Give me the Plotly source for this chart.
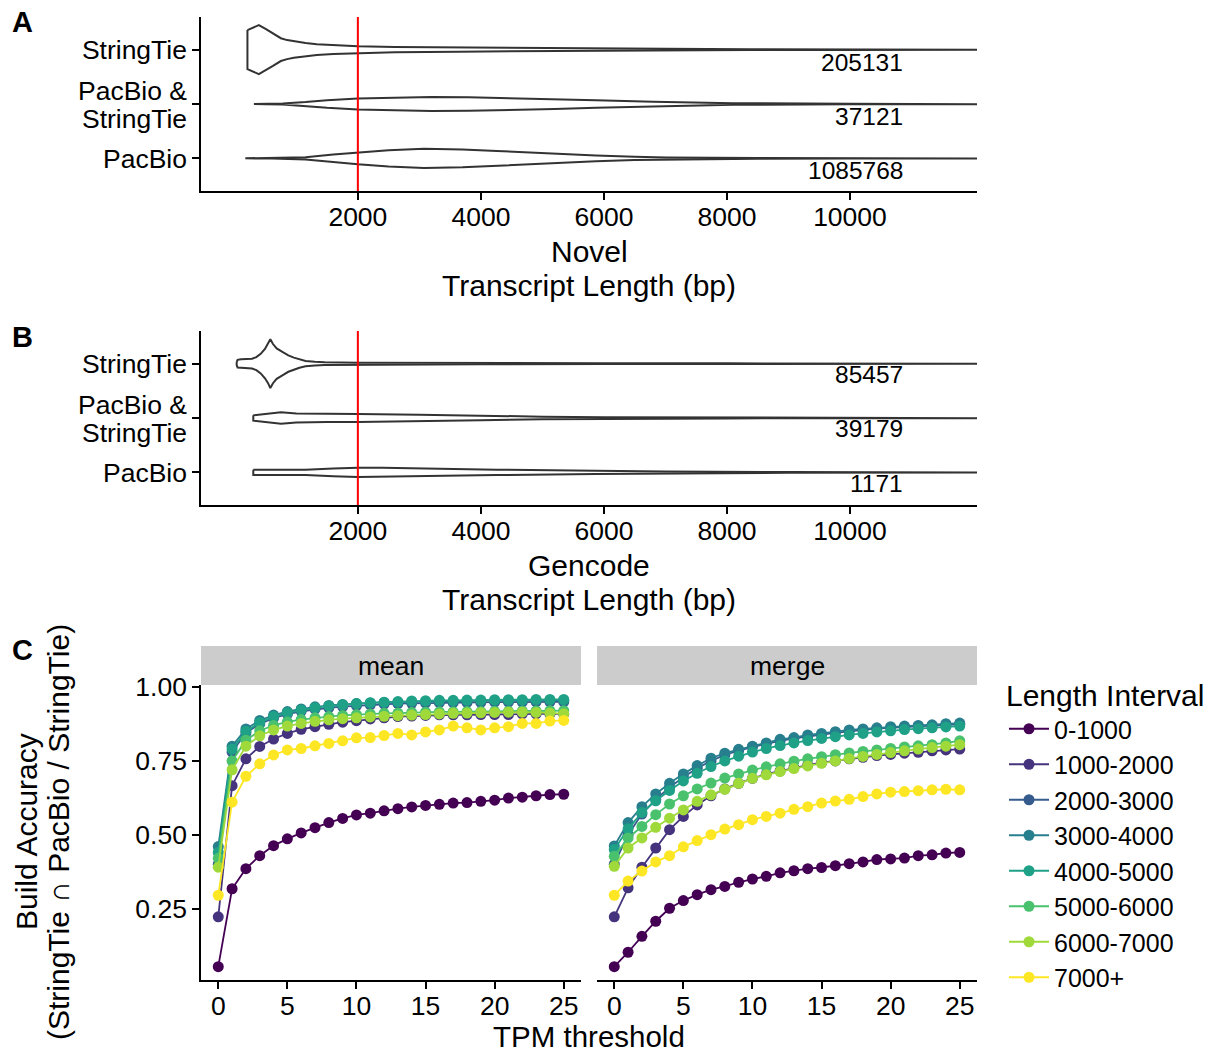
import plotly.graph_objects as go

W, H = 1213, 1053
FONT = "Liberation Sans, Arial, sans-serif"

# ---------------- Panel A / B violin outlines (length bp, half-width in category units)
cats = ["PacBio", "PacBio &<br>StringTie", "StringTie"]
len_ticks = [2000, 4000, 6000, 8000, 10000]
len_tick_text = ["2000", "4000", "6000", "8000", "10000"]

a_st_x = [205, 390, 500, 620, 748, 850, 959, 1150, 1333, 1600, 2000, 2600, 3642, 4800, 5870, 7000, 8374, 10000, 12065]
a_st_w = [0.36, 0.45, 0.38, 0.30, 0.21, 0.175, 0.15, 0.12, 0.10, 0.08, 0.062, 0.048, 0.037, 0.028, 0.022, 0.014, 0.008, 0.005, 0.004]
a_ps_x = [310, 500, 780, 1150, 1500, 2000, 2500, 3200, 3800, 4500, 5200, 5870, 6800, 8100, 10000, 12065]
a_ps_w = [0.002, 0.004, 0.008, 0.035, 0.07, 0.10, 0.118, 0.13, 0.125, 0.11, 0.09, 0.068, 0.04, 0.015, 0.006, 0.003]
a_pb_x = [170, 600, 1150, 1600, 2000, 2500, 3075, 3700, 4260, 5000, 5870, 6500, 7020, 8500, 10000, 12065]
a_pb_w = [0.002, 0.004, 0.02, 0.07, 0.11, 0.15, 0.178, 0.165, 0.135, 0.095, 0.055, 0.03, 0.015, 0.006, 0.004, 0.003]

b_st_x = [30, 45, 100, 200, 280, 350, 420, 490, 540, 577, 620, 680, 780, 870, 960, 1050, 1150, 1300, 1460, 2000, 3000, 4000, 6000, 8000, 12065]
b_st_w = [0.03, 0.07, 0.08, 0.08, 0.09, 0.12, 0.18, 0.27, 0.36, 0.45, 0.36, 0.28, 0.21, 0.15, 0.11, 0.075, 0.05, 0.035, 0.025, 0.018, 0.013, 0.01, 0.007, 0.005, 0.003]
b_ps_x = [300, 500, 750, 1000, 1500, 2000, 3000, 4000, 5000, 6000, 8000, 12065]
b_ps_w = [0.05, 0.075, 0.105, 0.085, 0.075, 0.073, 0.06, 0.04, 0.025, 0.015, 0.007, 0.003]
b_pb_x = [300, 700, 1150, 1600, 2000, 2400, 3000, 4260, 5870, 7000, 9000, 12065]
b_pb_w = [0.05, 0.047, 0.05, 0.07, 0.085, 0.085, 0.07, 0.05, 0.028, 0.015, 0.007, 0.003]

a_counts = ["1085768", "37121", "205131"]
b_counts = ["1171", "39179", "85457"]
count_x = 10900
cutoff = 2000

# ---------------- Panel C
tpm = list(range(26))
intervals = ["0-1000", "1000-2000", "2000-3000", "3000-4000", "4000-5000", "5000-6000", "6000-7000", "7000+"]
colors = ["#440154", "#46337E", "#365C8D", "#277F8E", "#1FA187", "#4AC16D", "#9FDA3A", "#FDE725"]

mean_0_1000 = [0.053, 0.317, 0.385, 0.429, 0.463, 0.486, 0.506, 0.524, 0.541, 0.555, 0.567, 0.573, 0.581, 0.588, 0.594, 0.599, 0.603, 0.607, 0.609, 0.613, 0.617, 0.624, 0.627, 0.632, 0.636, 0.637]
mean_1000_2000 = [0.222, 0.666, 0.757, 0.799, 0.824, 0.843, 0.857, 0.866, 0.874, 0.881, 0.886, 0.892, 0.896, 0.900, 0.902, 0.904, 0.906, 0.906, 0.906, 0.907, 0.907, 0.907, 0.909, 0.909, 0.909, 0.909]
mean_2000_3000 = [0.40, 0.78, 0.845, 0.875, 0.895, 0.908, 0.918, 0.925, 0.930, 0.934, 0.937, 0.940, 0.942, 0.944, 0.945, 0.946, 0.947, 0.947, 0.948, 0.948, 0.949, 0.949, 0.949, 0.950, 0.950, 0.950]
mean_3000_4000 = [0.46, 0.80, 0.858, 0.887, 0.905, 0.917, 0.926, 0.933, 0.938, 0.941, 0.944, 0.946, 0.948, 0.949, 0.950, 0.951, 0.952, 0.952, 0.953, 0.953, 0.954, 0.954, 0.954, 0.955, 0.955, 0.955]
mean_4000_5000 = [0.44, 0.79, 0.85, 0.88, 0.90, 0.913, 0.922, 0.930, 0.936, 0.940, 0.944, 0.947, 0.949, 0.951, 0.953, 0.954, 0.955, 0.955, 0.956, 0.956, 0.957, 0.957, 0.957, 0.958, 0.958, 0.958]
mean_5000_6000 = [0.42, 0.75, 0.82, 0.852, 0.87, 0.882, 0.890, 0.896, 0.900, 0.904, 0.907, 0.909, 0.911, 0.912, 0.914, 0.915, 0.916, 0.916, 0.917, 0.917, 0.918, 0.918, 0.919, 0.919, 0.920, 0.920]
mean_6000_7000 = [0.39, 0.72, 0.80, 0.835, 0.855, 0.868, 0.877, 0.884, 0.889, 0.893, 0.896, 0.899, 0.901, 0.903, 0.905, 0.907, 0.909, 0.911, 0.912, 0.913, 0.914, 0.915, 0.915, 0.914, 0.912, 0.910]
mean_7000p = [0.295, 0.610, 0.698, 0.740, 0.770, 0.787, 0.792, 0.801, 0.809, 0.818, 0.828, 0.829, 0.836, 0.843, 0.838, 0.848, 0.855, 0.868, 0.862, 0.855, 0.862, 0.866, 0.877, 0.877, 0.885, 0.887]

merge_0_1000 = [0.053, 0.102, 0.156, 0.207, 0.251, 0.277, 0.297, 0.314, 0.325, 0.339, 0.350, 0.359, 0.371, 0.378, 0.385, 0.389, 0.395, 0.402, 0.408, 0.416, 0.418, 0.421, 0.429, 0.432, 0.438, 0.440]
merge_1000_2000 = [0.222, 0.320, 0.390, 0.455, 0.517, 0.562, 0.601, 0.632, 0.655, 0.674, 0.691, 0.705, 0.716, 0.727, 0.736, 0.744, 0.750, 0.757, 0.762, 0.768, 0.772, 0.776, 0.779, 0.784, 0.787, 0.790]
merge_2000_3000 = [0.40, 0.50, 0.57, 0.62, 0.66, 0.695, 0.725, 0.75, 0.77, 0.785, 0.797, 0.808, 0.818, 0.826, 0.833, 0.839, 0.845, 0.85, 0.855, 0.859, 0.862, 0.865, 0.868, 0.87, 0.872, 0.874]
merge_3000_4000 = [0.462, 0.541, 0.595, 0.638, 0.674, 0.706, 0.734, 0.759, 0.776, 0.789, 0.800, 0.811, 0.823, 0.829, 0.838, 0.843, 0.849, 0.855, 0.858, 0.862, 0.866, 0.868, 0.870, 0.872, 0.876, 0.878]
merge_4000_5000 = [0.45, 0.52, 0.575, 0.615, 0.650, 0.682, 0.708, 0.731, 0.750, 0.766, 0.780, 0.792, 0.802, 0.811, 0.819, 0.826, 0.832, 0.838, 0.843, 0.848, 0.852, 0.856, 0.859, 0.862, 0.865, 0.868]
merge_5000_6000 = [0.427, 0.489, 0.528, 0.568, 0.604, 0.632, 0.655, 0.675, 0.692, 0.706, 0.719, 0.730, 0.740, 0.749, 0.757, 0.764, 0.771, 0.777, 0.782, 0.787, 0.792, 0.797, 0.801, 0.805, 0.811, 0.818]
merge_6000_7000 = [0.393, 0.455, 0.489, 0.525, 0.556, 0.584, 0.613, 0.635, 0.654, 0.674, 0.691, 0.703, 0.714, 0.724, 0.733, 0.742, 0.750, 0.758, 0.765, 0.772, 0.778, 0.784, 0.790, 0.795, 0.800, 0.805]
merge_7000p = [0.295, 0.343, 0.377, 0.408, 0.429, 0.459, 0.480, 0.500, 0.519, 0.534, 0.551, 0.562, 0.573, 0.586, 0.595, 0.607, 0.614, 0.620, 0.629, 0.638, 0.644, 0.646, 0.649, 0.652, 0.654, 0.652]

mean_series = [mean_0_1000, mean_1000_2000, mean_2000_3000, mean_3000_4000, mean_4000_5000, mean_5000_6000, mean_6000_7000, mean_7000p]
merge_series = [merge_0_1000, merge_1000_2000, merge_2000_3000, merge_3000_4000, merge_4000_5000, merge_5000_6000, merge_6000_7000, merge_7000p]

TICK = 26.5
TITLE = 30


def px_x(p):
    return p / W


def px_y(p):
    return 1 - p / H


fig = go.Figure()


def violin(xs, ws, cat, xa, ya):
    upper = [cat + w for w in ws]
    lower = [cat - w for w in ws]
    fig.add_trace(go.Scatter(
        x=list(xs) + list(xs)[::-1] + [xs[0]],
        y=upper + lower[::-1] + [upper[0]],
        mode="lines", fill="toself", fillcolor="white",
        line=dict(color="#333333", width=2),
        xaxis=xa, yaxis=ya, showlegend=False, hoverinfo="skip"))


violin(a_pb_x, a_pb_w, 1, "x", "y")
violin(a_ps_x, a_ps_w, 2, "x", "y")
violin(a_st_x, a_st_w, 3, "x", "y")
violin(b_pb_x, b_pb_w, 1, "x2", "y2")
violin(b_ps_x, b_ps_w, 2, "x2", "y2")
violin(b_st_x, b_st_w, 3, "x2", "y2")

# Panel C traces
for i, name in enumerate(intervals):
    fig.add_trace(go.Scatter(
        x=tpm, y=mean_series[i], mode="lines+markers", name=name,
        legendgroup=name, showlegend=True,
        line=dict(color=colors[i], width=1.8),
        marker=dict(color=colors[i], size=11),
        xaxis="x3", yaxis="y3"))
for i, name in enumerate(intervals):
    fig.add_trace(go.Scatter(
        x=tpm, y=merge_series[i], mode="lines+markers", name=name,
        legendgroup=name, showlegend=False,
        line=dict(color=colors[i], width=1.8),
        marker=dict(color=colors[i], size=11),
        xaxis="x4", yaxis="y4"))

axis_common = dict(showline=True, linecolor="black", linewidth=1.5, ticks="outside",
                   ticklen=7, tickwidth=1.5, tickcolor="black", showgrid=False,
                   zeroline=False, automargin=False,
                   tickfont=dict(size=TICK, color="black", family=FONT))
xaxis_extra = dict(ticklabelstandoff=-6)

annotations = []
shapes = []

# two-line category label (tighter line spacing than Plotly's tick labels allow)
cat_axis_text = [cats[0], "", cats[2]]
for yref in ["y", "y2"]:
    top, bottom = cats[1].split("<br>")
    for txt, dy in [(top, 0.24), (bottom, -0.27)]:
        annotations.append(dict(x=px_x(189), y=2 + dy, xref="paper", yref=yref, text=txt,
                                showarrow=False, xanchor="right", yanchor="middle",
                                font=dict(size=TICK, color="black")))

# count labels
for i, c in enumerate(a_counts):
    annotations.append(dict(x=count_x, y=i + 1 - 0.23, xref="x", yref="y", text=c,
                            showarrow=False, xanchor="right", yanchor="middle",
                            font=dict(size=24.5, color="black")))
for i, c in enumerate(b_counts):
    annotations.append(dict(x=count_x, y=i + 1 - 0.2, xref="x2", yref="y2", text=c,
                            showarrow=False, xanchor="right", yanchor="middle",
                            font=dict(size=24.5, color="black")))

# red cutoff lines
for xr, yr in [("x", "y domain"), ("x2", "y2 domain")]:
    shapes.append(dict(type="line", xref=xr, yref=yr, x0=cutoff, x1=cutoff, y0=0, y1=1,
                       line=dict(color="#FF0000", width=2)))

# strips
for x0, x1, lab in [(201, 581, "mean"), (597, 977, "merge")]:
    shapes.append(dict(type="rect", xref="paper", yref="paper", x0=px_x(x0), x1=px_x(x1),
                       y0=px_y(685), y1=px_y(646), fillcolor="#CCCCCC", line=dict(width=0),
                       layer="below"))
    annotations.append(dict(x=px_x((x0 + x1) / 2), y=px_y(665.5), xref="paper", yref="paper",
                            text=lab, showarrow=False, xanchor="center", yanchor="middle",
                            font=dict(size=TICK, color="black")))


def title(text, x, y, size=TITLE, angle=0):
    annotations.append(dict(x=px_x(x), y=px_y(y), xref="paper", yref="paper", text=text,
                            showarrow=False, xanchor="center", yanchor="middle",
                            textangle=angle, font=dict(size=size, color="black")))


title("Novel", 589, 251)
title("Transcript Length (bp)", 589, 285)
title("Gencode", 589, 565)
title("Transcript Length (bp)", 589, 599)
title("TPM threshold", 589, 1036, size=29.5)
title("Build Accuracy", 26, 832, angle=-90)
title("(StringTie ∩ PacBio / StringTie)", 58, 832, angle=-90)

for lab, y in [("A", 22), ("B", 337), ("C", 650)]:
    annotations.append(dict(x=px_x(22), y=px_y(y), xref="paper", yref="paper",
                            text="<b>" + lab + "</b>", showarrow=False, xanchor="center",
                            yanchor="middle", font=dict(size=29, color="black")))

fig.update_layout(
    width=W, height=H, margin=dict(l=0, r=0, t=0, b=0, pad=0, autoexpand=False),
    paper_bgcolor="white", plot_bgcolor="white",
    font=dict(family=FONT, color="black", size=TICK),
    xaxis=dict(domain=[px_x(201), px_x(977)], anchor="y", range=[-550, 12065],
               tickvals=len_ticks, ticktext=len_tick_text, **axis_common, **xaxis_extra),
    yaxis=dict(domain=[px_y(191), px_y(17)], anchor="x", range=[0.4, 3.6],
               tickvals=[1, 2, 3], ticktext=cat_axis_text, **axis_common),
    xaxis2=dict(domain=[px_x(201), px_x(977)], anchor="y2", range=[-550, 12065],
                tickvals=len_ticks, ticktext=len_tick_text, **axis_common, **xaxis_extra),
    yaxis2=dict(domain=[px_y(505), px_y(331)], anchor="x2", range=[0.4, 3.6],
                tickvals=[1, 2, 3], ticktext=cat_axis_text, **axis_common),
    xaxis3=dict(domain=[px_x(201), px_x(581)], anchor="y3", range=[-1.25, 26.25],
                tickvals=[0, 5, 10, 15, 20, 25], **axis_common, **xaxis_extra),
    yaxis3=dict(domain=[px_y(980), px_y(685)], anchor="x3", range=[0.008, 1.007],
                tickvals=[0.25, 0.5, 0.75, 1.0], ticktext=["0.25", "0.50", "0.75", "1.00"],
                **axis_common),
    xaxis4=dict(domain=[px_x(597), px_x(977)], anchor="y4", range=[-1.25, 26.25],
                tickvals=[0, 5, 10, 15, 20, 25], **axis_common, **xaxis_extra),
    yaxis4=dict(domain=[px_y(980), px_y(685)], anchor="x4", range=[0.008, 1.007],
                showline=False, showticklabels=False, ticks="", showgrid=False, zeroline=False),
    legend=dict(x=px_x(1004), y=px_y(667), xanchor="left", yanchor="top",
                title=dict(text="Length Interval", font=dict(size=TITLE)),
                font=dict(size=25), bgcolor="rgba(0,0,0,0)", tracegroupgap=0,
                itemwidth=40),
    annotations=annotations, shapes=shapes, showlegend=True,
)

fig.write_html("out.html")
